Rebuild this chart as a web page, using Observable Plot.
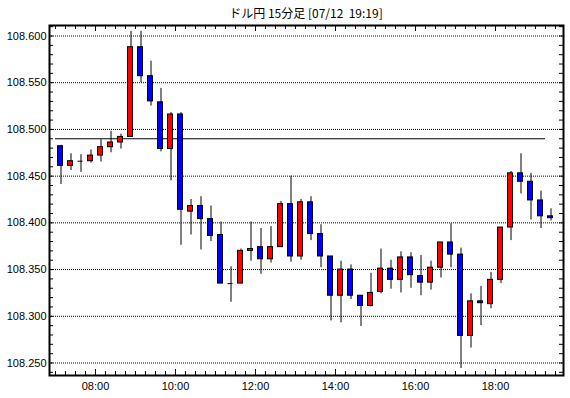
<!DOCTYPE html>
<html>
<head>
<meta charset="utf-8">
<script src="https://cdn.jsdelivr.net/npm/d3@7"></script>
<script src="https://cdn.jsdelivr.net/npm/@observablehq/plot@0.6"></script>
<style>
  body { margin: 0; background: #fff; }
  #title { position: relative; height: 22px; width: 570px; box-sizing: border-box;
           padding-left: 49px; padding-right: 7px; text-align: center;
           font: 12px "Noto Sans CJK JP", "Liberation Sans", sans-serif; line-height: 26px;
           color: #000; white-space: pre; }
  #chart svg { display: block; }
</style>
</head>
<body>
<div id="title"></div>
<div id="chart"></div>
<script>
// ---- data ----
const titleText = "ドル円 15分足 [07/12  19:19]";
const times = ["07:00","07:15","07:30","07:45","08:00","08:15","08:30","08:45",
  "09:00","09:15","09:30","09:45","10:00","10:15","10:30","10:45",
  "11:00","11:15","11:30","11:45","12:00","12:15","12:30","12:45",
  "13:00","13:15","13:30","13:45","14:00","14:15","14:30","14:45",
  "15:00","15:15","15:30","15:45","16:00","16:15","16:30","16:45",
  "17:00","17:15","17:30","17:45","18:00","18:15","18:30","18:45",
  "19:00","19:15"];
const open = [108.482,108.461,108.466,108.466,108.472,108.481,108.486,108.492,
  108.588,108.557,108.529,108.479,108.516,108.412,108.418,108.404,
  108.387,108.335,108.335,108.370,108.374,108.361,108.374,108.420,
  108.364,108.422,108.388,108.364,108.322,108.350,108.322,108.311,
  108.326,108.351,108.339,108.363,108.343,108.336,108.352,108.379,
  108.366,108.279,108.316,108.313,108.339,108.395,108.453,108.444,
  108.424,108.407];
const high = [108.483,108.474,108.473,108.478,108.489,108.498,108.495,108.605,
  108.605,108.573,108.544,108.518,108.518,108.425,108.428,108.418,
  108.401,108.353,108.372,108.401,108.394,108.396,108.423,108.450,
  108.425,108.428,108.398,108.364,108.359,108.355,108.322,108.346,
  108.372,108.360,108.369,108.368,108.365,108.359,108.379,108.399,
  108.373,108.324,108.332,108.347,108.395,108.455,108.474,108.453,
  108.434,108.415];
const low = [108.441,108.456,108.454,108.464,108.465,108.475,108.479,108.492,
  108.550,108.525,108.476,108.445,108.376,108.387,108.371,108.380,
  108.335,108.315,108.335,108.359,108.345,108.357,108.374,108.358,
  108.360,108.381,108.352,108.295,108.293,108.318,108.289,108.310,
  108.324,108.329,108.325,108.330,108.322,108.328,108.341,108.352,
  108.244,108.266,108.290,108.308,108.335,108.381,108.431,108.403,
  108.394,108.402];
const close = [108.461,108.466,108.466,108.472,108.481,108.486,108.492,108.588,
  108.557,108.530,108.479,108.516,108.414,108.418,108.404,108.386,
  108.335,108.335,108.370,108.372,108.361,108.374,108.420,108.364,
  108.422,108.388,108.364,108.322,108.350,108.322,108.311,108.325,
  108.351,108.339,108.363,108.344,108.336,108.352,108.379,108.366,
  108.279,108.316,108.314,108.339,108.395,108.453,108.444,108.424,
  108.407,108.405];
const refLevel = 108.490;
const refFrom = "07:00", refTo = "19:15";
const yTickLabels = [108.250,108.300,108.350,108.400,108.450,108.500,108.550,108.600];
const xTickLabels = ["08:00","10:00","12:00","14:00","16:00","18:00"];

// ---- helpers ----
const toMin = s => { const [h, m] = s.split(":").map(Number); return h * 60 + m; };
const fmtMin = v => String(Math.floor(v / 60)).padStart(2, "0") + ":" + String(v % 60).padStart(2, "0");
const candles = times.map((t, i) => ({t: toMin(t), open: open[i], high: high[i], low: low[i], close: close[i]}));
const UP = "#ff0000", DOWN = "#0000ff";

const W = 570, H = 376, mL = 49, mR = 7, mT = 3, mB = 23;
const plotW = W - mL - mR, plotH = H - mT - mB;
const xDomain = [411, 1182];
const yDomain = [108.23662, 108.61124];
const xMinor = d3.range(420, 1181, 15);
const xMajor = xTickLabels.map(toMin);
const yMinor = d3.range(108240, 108611, 10).map(v => v / 1000);

document.getElementById("title").textContent = titleText;

const chart = Plot.plot({
  width: W, height: H,
  marginLeft: mL, marginRight: mR, marginTop: mT, marginBottom: mB,
  x: {type: "linear", domain: xDomain},
  y: {type: "linear", domain: yDomain},
  style: {fontFamily: "'Liberation Sans', 'Noto Sans CJK JP', sans-serif", fontSize: "11px", color: "#000", background: "#fff"},
  marks: [
    Plot.ruleY(yTickLabels, {stroke: "#000", strokeDasharray: "1,1"}),
    Plot.ruleY([{y: refLevel, a: toMin(refFrom), b: toMin(refTo)}], {y: "y", x1: "a", x2: "b", stroke: "#000", strokeWidth: 1.2}),
    Plot.ruleX(candles, {x: d => d.t + 7.5, y1: "low", y2: "high", stroke: "#000", dx: 0.5}),
    Plot.rect(candles.filter(d => d.open !== d.close), {
      x1: "t", x2: d => d.t + 15, y1: "open", y2: "close",
      fill: d => d.close > d.open ? UP : DOWN, stroke: "#000", strokeWidth: 1,
      insetLeft: 2.5, insetRight: 2.5
    }),
    Plot.ruleY(candles.filter(d => d.open === d.close), {y: "open", x1: d => d.t + 3.75, x2: d => d.t + 11.25, stroke: "#000"}),
    // inward ticks
    Plot.tickY(yMinor, {y: d => d, stroke: "#000", insetRight: plotW - 4}),
    Plot.tickY(yMinor, {y: d => d, stroke: "#000", insetLeft: plotW - 4}),
    Plot.tickX(xMinor, {x: d => d, stroke: "#000", insetTop: plotH - 4}),
    Plot.tickX(xMinor, {x: d => d, stroke: "#000", insetBottom: plotH - 4}),
    Plot.tickX(xMajor, {x: d => d, stroke: "#000", insetTop: plotH - 6}),
    Plot.tickX(xMajor, {x: d => d, stroke: "#000", insetBottom: plotH - 6}),
    Plot.axisY(yTickLabels, {anchor: "left", tickSize: 0, tickPadding: 3, tickFormat: d3.format(".3f")}),
    Plot.axisX(xMajor, {anchor: "bottom", tickSize: 0, tickPadding: 7, tickFormat: fmtMin}),
    Plot.frame({stroke: "#000", strokeWidth: 2})
  ]
});
document.getElementById("chart").appendChild(chart);
</script>
</body>
</html>
